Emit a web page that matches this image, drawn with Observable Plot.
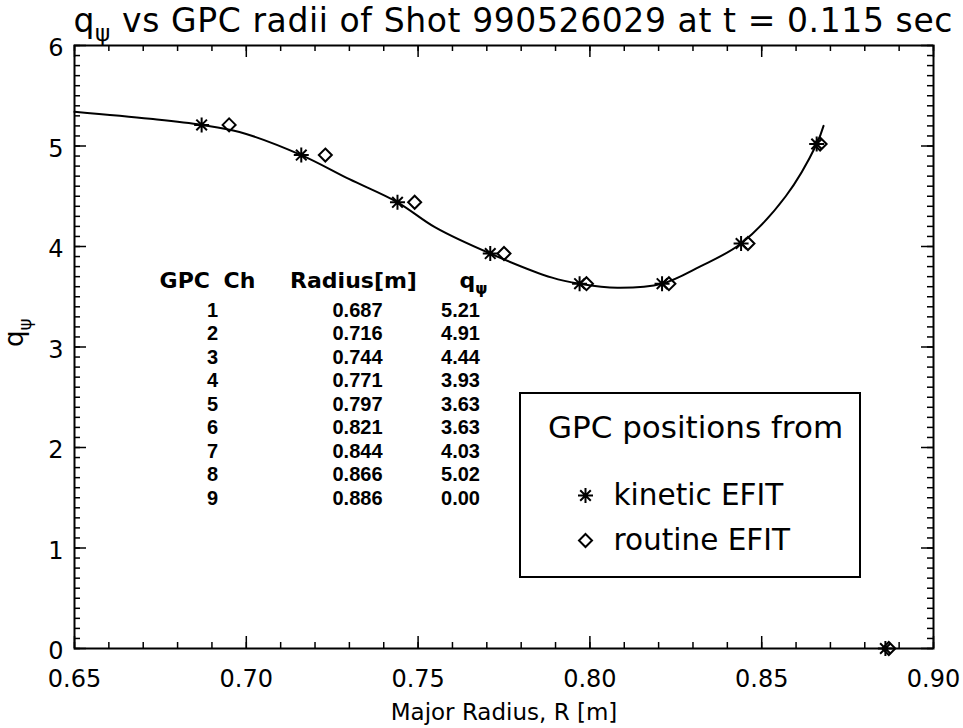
<!DOCTYPE html>
<html><head><meta charset="utf-8">
<script src="https://cdn.jsdelivr.net/npm/d3@7"></script>
<script src="https://cdn.jsdelivr.net/npm/@observablehq/plot@0.6"></script>
<style>
body{margin:0;background:#fff;}
svg text{font-family:"DejaVu Sans",sans-serif;}
.tbl text{font-family:"Liberation Sans",sans-serif;font-weight:bold;}
.tblh text{font-family:"DejaVu Sans",sans-serif;font-weight:bold;word-spacing:6px;}
.ttl text{letter-spacing:0.6px;}
</style></head><body><div id="chart"></div>
<script>
// ---- data ----
const channels = [1, 2, 3, 4, 5, 6, 7, 8, 9];
const kineticR = [0.687, 0.716, 0.744, 0.771, 0.797, 0.821, 0.844, 0.866, 0.886];
const qPsi     = [5.21, 4.91, 4.44, 3.93, 3.63, 3.63, 4.03, 5.02, 0.00];
const routineR = [0.695, 0.723, 0.749, 0.775, 0.799, 0.823, 0.846, 0.867, 0.887];
// fitted q profile
const curveR = [0.650, 0.672, 0.687, 0.698, 0.716, 0.730, 0.744, 0.755, 0.771, 0.789, 0.797, 0.808, 0.821, 0.832, 0.844, 0.857, 0.866, 0.868];
const curveQ = [5.34, 5.27, 5.21, 5.14, 4.91, 4.67, 4.44, 4.19, 3.93, 3.69, 3.63, 3.59, 3.63, 3.80, 4.03, 4.50, 5.02, 5.20];
const xTicks = [0.65, 0.70, 0.75, 0.80, 0.85, 0.90];
const yTicks = [0, 1, 2, 3, 4, 5, 6];
const titleText = "q_ψ vs GPC radii of Shot 990526029 at t = 0.115 sec";
const xLabel = "Major Radius, R [m]";
const yLabel = "q_ψ";
const tableHeaders = ["GPC Ch", "Radius[m]", "q_ψ"];
const legendTitle = "GPC positions from";
const legendItems = ["kinetic EFIT", "routine EFIT"];

// ---- layout helpers ----
const W = 963, H = 728, mL = 74, mR = 30, mT = 45, mB = 80;
const xDom = [0.65, 0.90], yDom = [0, 6];
const pxX = (W - mL - mR) / (xDom[1] - xDom[0]);
const pxY = (H - mT - mB) / (yDom[1] - yDom[0]);
const X = px => xDom[0] + (px - mL) / pxX;       // pixel -> data
const Y = py => yDom[0] + (H - mB - py) / pxY;

const xMinor = d3.range(65, 91).map(v => v / 100);
const yMinor = d3.range(0, 61).map(v => v / 10);
const majLen = 12, minLen = 6;

const asterisk = {draw(ctx, size) {
  const r = Math.sqrt(size / Math.PI), d = r * Math.SQRT1_2;
  ctx.moveTo(-r, 0); ctx.lineTo(r, 0);
  ctx.moveTo(0, -r); ctx.lineTo(0, r);
  ctx.moveTo(-d, -d); ctx.lineTo(d, d);
  ctx.moveTo(-d, d); ctx.lineTo(d, -d);
}};
const diamond = {draw(ctx, size) {
  const r = Math.sqrt(size / Math.PI);
  ctx.moveTo(0, -r); ctx.lineTo(r, 0); ctx.lineTo(0, r); ctx.lineTo(-r, 0); ctx.closePath();
}};

const kinetic = channels.map((c, i) => ({R: kineticR[i], q: qPsi[i]}));
const routine = channels.map((c, i) => ({R: routineR[i], q: qPsi[i]}));
const curve = curveR.map((r, i) => ({R: r, q: curveQ[i]}));
const rows = channels.map((c, i) => ({ch: c, R: kineticR[i], q: qPsi[i], i}));

const rowY = i => Y(310 + i * 23.5);
const colCh = X(212), colR = X(357), colQ = X(460);

const plot = Plot.plot({
  width: W, height: H,
  marginLeft: mL, marginRight: mR, marginTop: mT, marginBottom: mB,
  x: {domain: xDom}, y: {domain: yDom},
  style: {background: "#fff", color: "#000"},
  marks: [
    // ticks (inward)
    Plot.ruleX(xMinor, {y1: 0, y2: minLen / pxY, stroke: "#000", strokeWidth: 1.5}),
    Plot.ruleX(xTicks, {y1: 0, y2: majLen / pxY, stroke: "#000", strokeWidth: 1.5}),
    Plot.ruleX(xMinor, {y1: 6 - minLen / pxY, y2: 6, stroke: "#000", strokeWidth: 1.5}),
    Plot.ruleX(xTicks, {y1: 6 - majLen / pxY, y2: 6, stroke: "#000", strokeWidth: 1.5}),
    Plot.ruleY(yMinor, {x1: 0.65, x2: 0.65 + minLen / pxX, stroke: "#000", strokeWidth: 1.5}),
    Plot.ruleY(yTicks, {x1: 0.65, x2: 0.65 + majLen / pxX, stroke: "#000", strokeWidth: 1.5}),
    Plot.ruleY(yMinor, {x1: 0.90 - minLen / pxX, x2: 0.90, stroke: "#000", strokeWidth: 1.5}),
    Plot.ruleY(yTicks, {x1: 0.90 - majLen / pxX, x2: 0.90, stroke: "#000", strokeWidth: 1.5}),
    Plot.frame({stroke: "#000", strokeWidth: 2}),
    Plot.axisX({ticks: xTicks, tickSize: 0, tickPadding: 21, tickFormat: d3.format(".2f"), fontSize: 24, label: null}),
    Plot.axisY({ticks: yTicks, tickSize: 0, tickPadding: 11, tickFormat: d3.format("d"), fontSize: 24, label: null, dy: 3}),
    Plot.text([xLabel], {frameAnchor: "bottom", dy: 64, fontSize: 23, lineAnchor: "middle"}),
    Plot.text([yLabel], {frameAnchor: "left", dx: -60, rotate: -90, fontSize: 26, lineAnchor: "middle"}),
    Plot.text([titleText], {frameAnchor: "top-left", dx: -1, dy: -14, textAnchor: "start", lineAnchor: "bottom", fontSize: 33, className: "ttl"}),
    // fitted curve
    Plot.line(curve, {x: "R", y: "q", curve: "catmull-rom", stroke: "#000", strokeWidth: 2}),
    // points
    Plot.dot(routine, {x: "R", y: "q", symbol: diamond, r: 6.5, fill: "none", stroke: "#000", strokeWidth: 2}),
    Plot.dot(kinetic, {x: "R", y: "q", symbol: asterisk, r: 7.5, fill: "none", stroke: "#000", strokeWidth: 2}),
    // table
    Plot.text(tableHeaders, {x: (d, i) => [X(207), X(353), X(473)][i], y: Y(280), fontSize: 22, className: "tblh"}),
    Plot.text(rows, {x: colCh, y: d => rowY(d.i), text: d => String(d.ch), fontSize: 20, className: "tbl"}),
    Plot.text(rows, {x: colR, y: d => rowY(d.i), text: d => d3.format(".3f")(d.R), fontSize: 20, className: "tbl"}),
    Plot.text(rows, {x: colQ, y: d => rowY(d.i), text: d => d3.format(".2f")(d.q), fontSize: 20, className: "tbl"}),
    // legend box
    Plot.rect([0], {x1: X(520), x2: X(860), y1: Y(577), y2: Y(393), fill: "#fff", stroke: "#000", strokeWidth: 2}),
    Plot.text([legendTitle], {x: X(695), y: Y(428), fontSize: 31}),
    Plot.dot([0], {x: X(585), y: Y(495), symbol: asterisk, r: 7.5, fill: "none", stroke: "#000", strokeWidth: 2}),
    Plot.dot([0], {x: X(585), y: Y(540), symbol: diamond, r: 6.5, fill: "none", stroke: "#000", strokeWidth: 2}),
    Plot.text(legendItems, {x: X(613), y: (d, i) => Y(495 + 45 * i), textAnchor: "start", fontSize: 29.5})
  ]
});
document.getElementById("chart").appendChild(plot);

// subscript psi
d3.select(plot).selectAll("text").each(function() {
  const t = this.textContent;
  if (!t.includes("_ψ")) return;
  const [a, b] = t.split("_ψ");
  const fs = parseFloat(getComputedStyle(this).fontSize);
  const s = d3.select(this);
  this.textContent = "";
  s.append("tspan").text(a);
  s.append("tspan").attr("dy", fs * 0.3).attr("font-size", fs * 0.7).text("ψ");
  if (b) s.append("tspan").attr("dy", -fs * 0.3).text(b);
});
</script></body></html>
